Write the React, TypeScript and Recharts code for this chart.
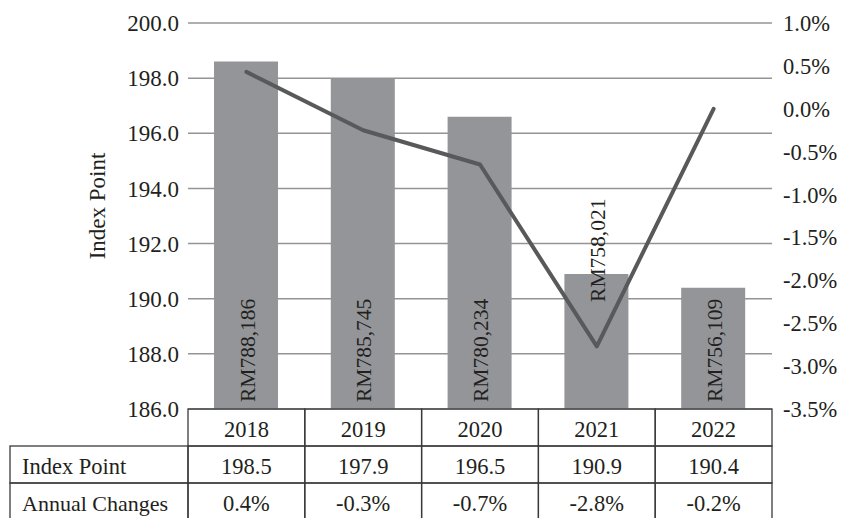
import React from 'react';
import { ComposedChart, Bar, Line, XAxis, YAxis, CartesianGrid, LabelList, Label } from 'recharts';

const years = ['2018', '2019', '2020', '2021', '2022'];
const indexPoints = [198.6, 198.0, 196.6, 190.9, 190.4];
const annualChanges = [0.43, -0.25, -0.65, -2.77, 0.0];
const rmLabels = ['RM788,186', 'RM785,745', 'RM780,234', 'RM758,021', 'RM756,109'];
const tableIndexPoint = ['198.5', '197.9', '196.5', '190.9', '190.4'];
const tableAnnualChanges = ['0.4%', '-0.3%', '-0.7%', '-2.8%', '-0.2%'];
const leftTicks = [186, 188, 190, 192, 194, 196, 198, 200];
const rightTicks = [-3.5, -3.0, -2.5, -2.0, -1.5, -1.0, -0.5, 0.0, 0.5, 1.0];
const rowTitles = ['Index Point', 'Annual Changes'];

const data = years.map((year, i) => ({
  year,
  index: indexPoints[i],
  change: annualChanges[i],
  rm: rmLabels[i],
}));

const FONT = '"Liberation Serif", "Times New Roman", serif';
const TEXT = '#231f20';
const BORDER = '#3a3a3a';

const W = 843;
const H = 518;
const LEFT_W = 188;
const RIGHT_W = 71;
const XAXIS_H = 109;
const PLOT_W = W - LEFT_W - RIGHT_W;
const BAND = PLOT_W / years.length;
const ROW_H = 37;
const FIRST_COL_X = 10;

const TableTick = (props: any) => {
  const { x, y, index, payload } = props;
  const left = x - BAND / 2;
  const top = y;
  const cellStyle = { fill: 'none', stroke: BORDER, strokeWidth: 1.3 };
  const textProps = { fontFamily: FONT, fontSize: 22.5, fill: TEXT };
  return (
    <g>
      {index === 0 && (
        <g>
          <rect x={FIRST_COL_X} y={top + ROW_H} width={left - FIRST_COL_X} height={ROW_H} {...cellStyle} />
          <rect x={FIRST_COL_X} y={top + 2 * ROW_H} width={left - FIRST_COL_X} height={ROW_H} {...cellStyle} />
          <text x={FIRST_COL_X + 12} y={top + ROW_H + 28} {...textProps} fontSize={22.5}>{rowTitles[0]}</text>
          <text x={FIRST_COL_X + 12} y={top + 2 * ROW_H + 28} {...textProps} fontSize={22}>{rowTitles[1]}</text>
        </g>
      )}
      <rect x={left} y={top} width={BAND} height={ROW_H} {...cellStyle} />
      <rect x={left} y={top + ROW_H} width={BAND} height={ROW_H} {...cellStyle} />
      <rect x={left} y={top + 2 * ROW_H} width={BAND} height={ROW_H} {...cellStyle} />
      <text x={x} y={top + 28} textAnchor="middle" {...textProps}>{payload.value}</text>
      <text x={x} y={top + ROW_H + 28} textAnchor="middle" {...textProps}>{tableIndexPoint[index]}</text>
      <text x={x} y={top + 2 * ROW_H + 28} textAnchor="middle" {...textProps}>{tableAnnualChanges[index]}</text>
    </g>
  );
};

const RmLabel = (props: any) => {
  const { x, y, width, height, value, index } = props;
  const cx = x + width / 2 + 8.5;
  const bottom = y + height;
  const py = index === 3 ? y + 28 : bottom - 7;
  return (
    <text
      x={cx}
      y={py}
      transform={`rotate(-90, ${cx}, ${py})`}
      textAnchor="start"
      fontFamily={FONT}
      fontSize={21.5}
      fill={TEXT}
    >
      {value}
    </text>
  );
};

export default function App() {
  return (
    <div style={{ position: 'absolute', left: 0, top: 0, width: W, height: H, background: '#fff' }}>
      <ComposedChart
        width={W}
        height={H}
        data={data}
        margin={{ top: 23, right: 0, left: 0, bottom: 0 }}
        barCategoryGap={0}
      >
        <CartesianGrid yAxisId="left" vertical={false} horizontal stroke="#949494" strokeWidth={1.5} />
        <XAxis
          dataKey="year"
          height={XAXIS_H}
          axisLine={false}
          tickLine={false}
          tickSize={0}
          tickMargin={0}
          interval={0}
          tick={<TableTick />}
        />
        <YAxis
          yAxisId="left"
          orientation="left"
          width={LEFT_W}
          domain={[186, 200]}
          ticks={leftTicks}
          allowDataOverflow
          axisLine={false}
          tickLine={false}
          tickSize={0}
          tickMargin={9}
          tickFormatter={(v: number) => v.toFixed(1)}
          tick={{ fontFamily: FONT, fontSize: 23, fill: TEXT }}
        >
          <Label
            value="Index Point"
            angle={-90}
            position="center"
            dx={3}
            dy={-10}
            style={{ fontFamily: FONT, fontSize: 23, fill: TEXT }}
          />
        </YAxis>
        <YAxis
          yAxisId="right"
          orientation="right"
          width={RIGHT_W}
          domain={[-3.5, 1.0]}
          ticks={rightTicks}
          allowDataOverflow
          axisLine={false}
          tickLine={false}
          tickSize={0}
          tickMargin={11}
          tickFormatter={(v: number) => `${v.toFixed(1)}%`}
          tick={{ fontFamily: FONT, fontSize: 22.5, fill: TEXT, textAnchor: 'start' }}
        />
        <Bar yAxisId="left" dataKey="index" fill="#939598" barSize={64} isAnimationActive={false}>
          <LabelList dataKey="rm" content={<RmLabel />} />
        </Bar>
        <Line
          yAxisId="right"
          type="linear"
          dataKey="change"
          stroke="#58595b"
          strokeWidth={4}
          strokeLinecap="round"
          strokeLinejoin="round"
          dot={false}
          activeDot={false}
          isAnimationActive={false}
        />
      </ComposedChart>
    </div>
  );
}
